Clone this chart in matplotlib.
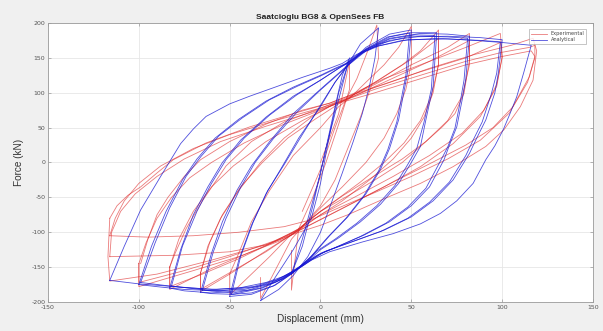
import numpy as np
import matplotlib.pyplot as plt

plt.rcParams['axes.unicode_minus'] = False

# hysteresis loops, (displacement mm, force kN)
# experimental (red) loops, smallest amplitude first
exp_16 = [(0, 0), (5, 35), (10, 70), (16, 145), (16, 105), (10, 55), (3, 0), (-5, -55),
          (-12, -95), (-16, -183), (-16, -126)]
exp_33 = [(-10, -70), (0, -10), (8, 50), (14, 90), (20, 120), (26, 160), (31, 197), (32, 150),
          (28, 110), (22, 65), (15, 20), (8, -25), (0, -62), (-10, -92), (-16, -110), (-22, -140),
          (-28, -170), (-33, -195), (-33, -165)]
exp_50 = [(-50, -160), (-45, -130), (-38, -85), (-28, -40), (-15, 10), (0, 50), (10, 80), (16, 92),
          (25, 115), (35, 140), (43, 165), (50, 195), (50, 142), (47, 105), (42, 70), (35, 35),
          (25, 0), (12, -35), (0, -65), (-10, -92), (-18, -108), (-28, -135), (-38, -160),
          (-50, -190), (-50, -160)]
exp_66 = [(-66, -158), (-62, -120), (-55, -80), (-45, -40), (-33, 0), (-20, 35), (-5, 65), (8, 85),
          (15, 92), (30, 115), (45, 140), (55, 160), (65, 190), (65, 142), (62, 100), (57, 65),
          (50, 35), (40, 5), (27, -25), (12, -55), (0, -75), (-12, -97), (-20, -110), (-35, -135),
          (-50, -160), (-66, -185), (-66, -158)]
exp_66b = [(-66, -158), (-61, -115), (-54, -75), (-44, -35), (-32, 0), (-18, 35), (-3, 62), (10, 84),
           (15, 92), (32, 118), (50, 148), (65, 178), (65, 140), (61, 95), (55, 60), (46, 28),
           (35, 0), (22, -28), (8, -55), (-5, -80), (-14, -100), (-30, -128), (-48, -155),
           (-66, -182), (-66, -158)]
exp_83 = [(-83, -150), (-80, -130), (-74, -95), (-65, -55), (-52, -5), (-38, 30), (-20, 58), (0, 78),
          (12, 90), (30, 112), (50, 140), (70, 165), (82, 185), (82, 147), (79, 99), (74, 70),
          (67, 51), (55, 23), (45, 0), (30, -25), (15, -48), (0, -70), (-12, -95), (-20, -108),
          (-40, -130), (-60, -152), (-83, -182), (-83, -150)]
exp_83b = [(-83, -150), (-78, -110), (-70, -70), (-60, -35), (-48, -5), (-30, 30), (-10, 60), (5, 80),
           (14, 90), (35, 115), (60, 145), (82, 175), (82, 140), (78, 95), (70, 60), (58, 30),
           (45, 5), (28, -22), (12, -48), (0, -70), (-12, -95), (-25, -113), (-45, -138),
           (-65, -160), (-83, -178), (-83, -150)]
exp_100 = [(-99, -145), (-95, -110), (-90, -75), (-84, -50), (-75, -20), (-66, 4), (-50, 30),
           (-30, 55), (-10, 75), (5, 85), (15, 95), (35, 120), (60, 145), (80, 165), (99, 185),
           (100, 152), (97, 109), (88, 66), (73, 27), (55, -6), (35, -35), (15, -62), (0, -82),
           (-12, -98), (-20, -110), (-45, -135), (-70, -155), (-100, -178), (-100, -145)]
exp_100b = [(-100, -145), (-96, -115), (-90, -80), (-82, -50), (-72, -22), (-60, 0), (-42, 28),
            (-20, 55), (0, 75), (12, 88), (30, 108), (55, 130), (80, 150), (99, 172), (100, 150),
            (97, 112), (90, 75), (78, 42), (60, 10), (40, -20), (20, -48), (0, -75), (-12, -96),
            (-25, -112), (-50, -135), (-75, -155), (-100, -172), (-100, -145)]
exp_116 = [(-116, -80), (-112, -62), (-106, -47), (-99, -35), (-90, -15), (-81, 4), (-63, 28),
           (-39, 51), (-15, 70), (5, 85), (15, 95), (35, 112), (60, 135), (85, 155), (105, 168),
           (117, 178), (119, 160), (117, 118), (110, 80), (101, 47), (91, 23), (73, -6),
           (55, -30), (35, -52), (15, -75), (0, -90), (-12, -100), (-30, -118), (-60, -140),
           (-90, -160), (-116, -170), (-117, -135), (-116, -80)]
exp_116b = [(-116, -105), (-113, -80), (-108, -55), (-100, -30), (-88, -5), (-70, 20), (-50, 40),
            (-25, 60), (0, 78), (12, 88), (30, 105), (55, 125), (80, 145), (100, 158), (115, 165),
            (118, 168), (118, 150), (115, 123), (104, 71), (88, 32), (70, 5), (50, -20),
            (30, -43), (10, -65), (-5, -82), (-20, -92), (-45, -100), (-70, -105), (-95, -107),
            (-116, -105)]
exp_116c = [(-116, -135), (-115, -100), (-110, -70), (-102, -45), (-90, -20), (-75, 5), (-55, 30),
            (-30, 52), (-5, 72), (10, 85), (30, 100), (55, 120), (80, 140), (100, 152), (116, 160),
            (118, 152), (114, 115), (106, 80), (95, 50), (80, 25), (60, -2), (40, -28), (20, -55),
            (5, -75), (-10, -95), (-30, -118), (-50, -128), (-80, -133), (-116, -135)]

# analytical (blue) loops
ana_16 = [(-16, -160), (-10, -110), (0, -15), (8, 80), (12, 125), (16, 150), (10, 90), (3, 20),
          (-4, -60), (-10, -120), (-16, -160)]
ana_33 = [(-33, -198), (-25, -165), (-15, -125), (-5, -80), (0, -30), (5, 40), (10, 100), (15, 140),
          (22, 170), (32, 193), (30, 150), (27, 110), (23, 70), (18, 30), (12, -15), (5, -65),
          (0, -100), (-7, -135), (-15, -162), (-23, -182), (-33, -198)]
ana_50 = [(-50, -192), (-45, -140), (-38, -90), (-30, -45), (-22, -10), (-12, 35), (0, 80), (8, 115),
          (15, 140), (25, 165), (38, 184), (50, 190), (48, 130), (43, 61), (38, 20), (33, -10),
          (25, -45), (15, -78), (5, -105), (-5, -135), (-15, -158), (-25, -176), (-38, -189),
          (-50, -192)]
ana_50b = [(-49, -189), (-44, -135), (-37, -85), (-29, -40), (-20, -3), (-10, 40), (0, 82), (8, 115),
           (15, 139), (25, 163), (37, 180), (49, 186), (47, 125), (42, 58), (37, 18), (32, -12),
           (24, -47), (14, -80), (4, -107), (-6, -137), (-15, -158), (-26, -177), (-38, -187),
           (-49, -189)]
ana_66 = [(-66, -186), (-60, -130), (-54, -85), (-46, -40), (-38, -5), (-28, 30), (-15, 70), (0, 105),
          (10, 128), (16, 142), (25, 162), (38, 180), (50, 186), (64, 186), (62, 109), (58, 61),
          (55, 23), (50, 0), (43, -30), (33, -60), (22, -85), (10, -108), (0, -125), (-10, -148),
          (-20, -166), (-32, -180), (-48, -189), (-60, -188), (-66, -186)]
ana_66b = [(-65, -183), (-59, -128), (-52, -80), (-44, -36), (-36, 0), (-26, 34), (-13, 72), (0, 104),
           (10, 127), (16, 141), (25, 160), (38, 177), (52, 183), (63, 182), (61, 105), (57, 58),
           (53, 20), (48, -3), (41, -33), (31, -62), (20, -87), (8, -110), (-2, -127), (-11, -149),
           (-21, -167), (-33, -180), (-48, -187), (-65, -183)]
ana_83 = [(-83, -180), (-77, -125), (-70, -75), (-62, -35), (-54, 0), (-44, 32), (-30, 65), (-15, 95),
          (0, 118), (10, 135), (16, 145), (25, 162), (38, 178), (55, 185), (70, 184), (82, 181),
          (80, 120), (78, 90), (75, 51), (71, 25), (68, 4), (60, -35), (50, -62), (38, -85),
          (24, -104), (10, -120), (0, -131), (-8, -145), (-16, -159), (-25, -172), (-40, -183),
          (-60, -187), (-75, -184), (-83, -180)]
ana_83b = [(-82, -177), (-76, -120), (-68, -70), (-60, -30), (-52, 4), (-42, 35), (-28, 68), (-13, 97),
           (0, 118), (10, 135), (16, 144), (25, 160), (38, 175), (55, 181), (70, 180), (81, 178),
           (79, 118), (77, 88), (74, 49), (70, 22), (66, 2), (58, -37), (48, -64), (36, -87),
           (22, -106), (8, -122), (-2, -133), (-10, -147), (-18, -160), (-27, -173), (-42, -182),
           (-60, -184), (-82, -177)]
ana_100 = [(-100, -175), (-93, -120), (-85, -70), (-76, -25), (-68, 5), (-58, 35), (-45, 62),
           (-30, 88), (-15, 108), (0, 125), (8, 135), (14, 142), (22, 158), (32, 170), (48, 180),
           (70, 181), (88, 179), (100, 176), (98, 130), (96, 100), (91, 61), (86, 35), (82, 13),
           (73, -25), (62, -55), (50, -78), (35, -97), (18, -113), (3, -127), (-6, -141),
           (-14, -155), (-22, -167), (-35, -178), (-55, -184), (-75, -182), (-90, -178),
           (-100, -175)]
ana_100b = [(-99, -172), (-91, -115), (-83, -65), (-74, -20), (-66, 8), (-56, 38), (-43, 64),
            (-28, 90), (-13, 109), (0, 124), (8, 134), (14, 141), (22, 156), (32, 167), (48, 176),
            (70, 177), (88, 175), (99, 173), (97, 128), (94, 98), (89, 58), (84, 32), (80, 10),
            (71, -28), (60, -57), (48, -80), (33, -99), (16, -115), (1, -129), (-8, -143),
            (-16, -157), (-24, -168), (-37, -178), (-57, -182), (-77, -179), (-99, -172)]
ana_116 = [(-116, -169), (-108, -120), (-99, -68), (-88, -20), (-77, 27), (-70, 48), (-63, 66),
           (-50, 84), (-39, 95), (-25, 108), (-10, 122), (5, 135), (12, 142), (20, 155), (30, 166),
           (45, 175), (65, 178), (85, 175), (100, 172), (116, 168), (112, 130), (108, 94),
           (104, 68), (100.6, 47), (96, 24), (91, 4), (84, -30), (75, -55), (66, -73), (55, -88),
           (40, -102), (23, -114), (5, -128), (-5, -140), (-12, -152), (-20, -163), (-30, -172),
           (-45, -180), (-60, -182), (-80, -178), (-100, -174), (-116, -169)]

exp_loops = [exp_16, exp_33, exp_50, exp_66, exp_66b, exp_83, exp_83b, exp_100, exp_100b,
             exp_116, exp_116b, exp_116c]
ana_loops = [ana_16, ana_33, ana_50, ana_50b, ana_66, ana_66b, ana_83, ana_83b, ana_100,
             ana_100b, ana_116]

fig = plt.figure(figsize=(6.03, 3.31), dpi=100, facecolor='#f0f0f0')
ax = fig.add_axes([0.0796, 0.0876, 0.9038, 0.843])

for i, loop in enumerate(exp_loops):
    pts = np.array(loop)
    ax.plot(pts[:, 0], pts[:, 1], color='#dd2222', lw=0.6, alpha=0.6,
            label='Experimental' if i == 0 else None)
for i, loop in enumerate(ana_loops):
    pts = np.array(loop)
    ax.plot(pts[:, 0], pts[:, 1], color='#1414d2', lw=0.6, alpha=0.75,
            label='Analytical' if i == 0 else None)

ax.set_xlim(-150, 150)
ax.set_ylim(-200, 200)
ax.set_xticks(np.arange(-150, 151, 50))
ax.set_yticks(np.arange(-200, 201, 50))
ax.grid(True, color='#e6e6e6', lw=0.6)
ax.set_axisbelow(True)
ax.tick_params(labelsize=4.5, labelcolor='#555555', color='#999999', direction='in',
               length=2.5, width=0.5, top=True, right=True, pad=2)
for s in ax.spines.values():
    s.set_color('#9a9a9a')
    s.set_linewidth(0.6)

ax.set_title('Saatcioglu BG8 & OpenSees FB', fontsize=6, fontweight='bold',
             color='#222222', family='Liberation Sans', pad=3)
ax.set_xlabel('Displacement (mm)', fontsize=7.2, color='#333333', family='Liberation Sans', labelpad=3)
ax.set_ylabel('Force (kN)', fontsize=7.2, color='#333333', family='Liberation Sans', labelpad=5)

leg = ax.legend(loc='upper right', fontsize=3.6, frameon=True, fancybox=False,
                handlelength=3.2, borderpad=0.4, labelspacing=0.2, borderaxespad=1.3)
leg.get_frame().set_edgecolor('#999999')
leg.get_frame().set_linewidth(0.5)
for t in leg.get_texts():
    t.set_color('#444444')

fig.savefig('out.png', dpi=100, facecolor=fig.get_facecolor())
